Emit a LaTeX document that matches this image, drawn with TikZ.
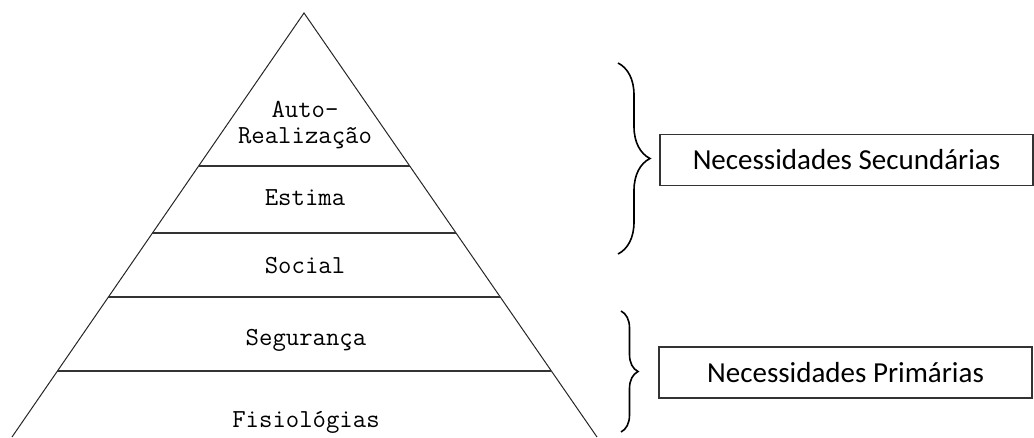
\documentclass[tikz,border=0pt]{standalone}
\usepackage{fontspec}
\setmainfont{Carlito}
\usetikzlibrary{calc,decorations.pathreplacing}
\begin{document}
\begin{tikzpicture}[x=1pt,y=-1pt,
  side/.style={line width=1pt,black!85},
  level/.style={line width=1.6pt,black!80},
  lvltext/.style={font=\ttfamily\fontsize{26}{30}\selectfont,anchor=base,inner sep=0pt},
  needbox/.style={draw=black!80,line width=1.3pt,minimum width=373pt,minimum height=51pt,
    inner sep=0pt,font=\fontsize{29}{35}\selectfont},
  bracestyle/.style={line width=1.6pt,decorate},
]
\useasboundingbox (0,0) rectangle (1034,437);
% pyramid
\coordinate (apex) at (304,13);
\coordinate (bl) at (12,437);
\coordinate (br) at (597,437);
\draw[side] (bl) -- (apex) -- (br);
\foreach \f/\n in {0.3608/a,0.5189/b,0.6698/c,0.8443/d}{
  \coordinate (l\n) at ($(apex)!\f!(bl)$);
  \coordinate (r\n) at ($(apex)!\f!(br)$);
  \draw[level] (l\n) -- (r\n);
}
% level labels
\node[lvltext] (auto) at (305,117) {Auto-};
\node[lvltext] (real) at (305,143) {Realização};
\node[lvltext] (estima) at (305,205) {Estima};
\node[lvltext] (social) at (305,273) {Social};
\node[lvltext] (seg) at (306,345) {Segurança};
\node[lvltext] (fisio) at (306,427) {Fisiológias};
% braces
\coordinate (b1s) at (618,63);
\coordinate (b1e) at (618,254);
\draw[bracestyle,decoration={brace,amplitude=32pt}] (b1s) -- (b1e);
\coordinate (b2s) at (621,311);
\coordinate (b2e) at (621,432);
\draw[bracestyle,decoration={brace,amplitude=17pt}] (b2s) -- (b2e);
% boxes
\node[needbox] (sec) at (846.5,160) {Necessidades Secundárias};
\node[needbox] (prim) at (845.5,372.5) {Necessidades Primárias};
\end{tikzpicture}
\end{document}
